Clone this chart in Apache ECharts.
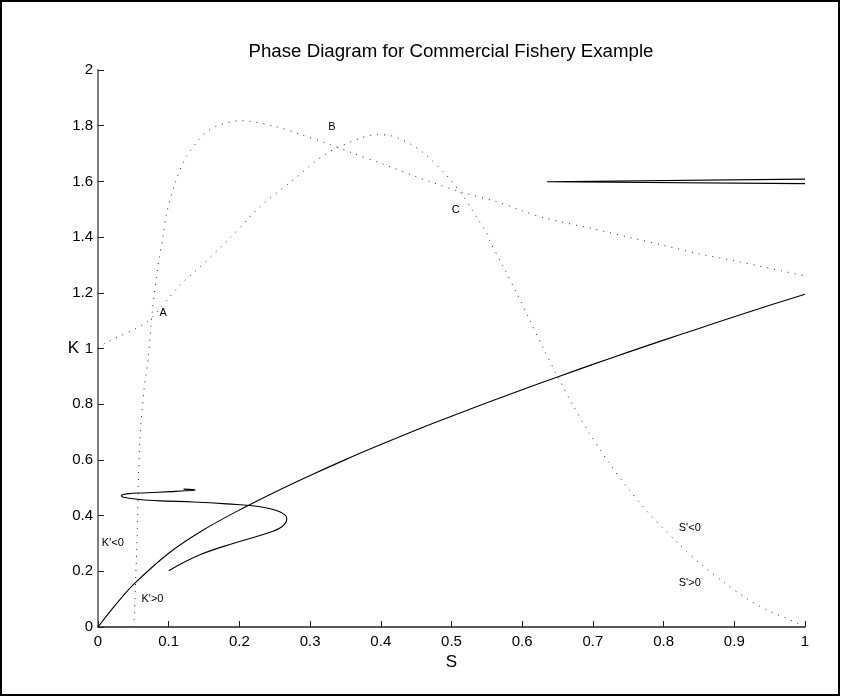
<!DOCTYPE html>
<html>
<head>
<meta charset="utf-8">
<script src="https://cdn.jsdelivr.net/npm/echarts@6/dist/echarts.min.js"></script>
<style>
  html, body { margin: 0; padding: 0; background: #fff; }
  #chart { width: 841px; height: 698px; }
</style>
</head>
<body>
<div id="chart"></div>
<script>
// Saddle-path trajectory from the origin (S, K)
const saddlePath = [
  [0, 0], [0.025, 0.08], [0.05, 0.152], [0.1, 0.265], [0.15, 0.35], [0.2, 0.42],
  [0.25, 0.484], [0.3, 0.544], [0.35, 0.601], [0.4, 0.655], [0.45, 0.707], [0.5, 0.757],
  [0.55, 0.805], [0.6, 0.852], [0.65, 0.898], [0.7, 0.943], [0.75, 0.987], [0.8, 1.03],
  [0.85, 1.072], [0.9, 1.114], [0.95, 1.155], [1.0, 1.195]
];

// Spiralling trajectory starting at (0.1, 0.2)
const spiralPath = [
  [0.1, 0.202], [0.144, 0.259], [0.191, 0.30], [0.238, 0.336], [0.26, 0.36],
  [0.267, 0.39], [0.257, 0.414], [0.229, 0.432], [0.182, 0.442], [0.135, 0.449],
  [0.088, 0.453], [0.059, 0.458], [0.036, 0.466], [0.033, 0.471], [0.041, 0.478],
  [0.069, 0.482], [0.102, 0.486], [0.125, 0.489], [0.138, 0.492], [0.121, 0.495]
];

// Diverging trajectories near the top right
const upperPath = [[1.0, 1.608], [0.635, 1.599], [1.0, 1.592]];

// K' = 0 isocline
const kIsocline = [
  [0.05, 0], [0.051, 0.02], [0.055, 0.3], [0.059, 0.66], [0.065, 0.85], [0.071, 0.965],
  [0.077, 1.138], [0.086, 1.318], [0.092, 1.401], [0.097, 1.485], [0.109, 1.593],
  [0.125, 1.689], [0.149, 1.767], [0.168, 1.799], [0.203, 1.818], [0.248, 1.799],
  [0.286, 1.769], [0.323, 1.737], [0.361, 1.701], [0.4, 1.665], [0.45, 1.617],
  [0.47, 1.599], [0.512, 1.563], [0.564, 1.527], [0.597, 1.497], [0.634, 1.467],
  [0.7, 1.43], [0.75, 1.40], [0.8, 1.37], [0.85, 1.34], [0.9, 1.315], [0.95, 1.288],
  [1.0, 1.261]
];

// S' = 0 isocline
const sIsocline = [
  [0, 1.0], [0.01, 1.019], [0.069, 1.096], [0.116, 1.228], [0.137, 1.276],
  [0.187, 1.397], [0.229, 1.509], [0.276, 1.605], [0.323, 1.70], [0.371, 1.755],
  [0.395, 1.768], [0.42, 1.76], [0.455, 1.713], [0.49, 1.63], [0.517, 1.545],
  [0.528, 1.503], [0.538, 1.461], [0.55, 1.414], [0.553, 1.392], [0.572, 1.3],
  [0.592, 1.2], [0.611, 1.1], [0.630, 1.0], [0.650, 0.9], [0.671, 0.8], [0.694, 0.7],
  [0.720, 0.6], [0.749, 0.5], [0.782, 0.4], [0.821, 0.3], [0.851, 0.229],
  [0.884, 0.163], [0.917, 0.103], [0.946, 0.061], [0.974, 0.031], [1.0, 0]
];

// Region and equilibrium annotations: [text, S, K]
const annotations = [
  ['A', 0.092, 1.126],
  ['B', 0.331, 1.795],
  ['C', 0.506, 1.497],
  ["K'<0", 0.021, 0.30],
  ["K'>0", 0.077, 0.10],
  ["S'<0", 0.837, 0.355],
  ["S'>0", 0.837, 0.158]
];

const titleText = 'Phase Diagram for Commercial Fishery Example';
const FONT = '"Liberation Sans", Arial, Helvetica, sans-serif';

const chart = echarts.init(document.getElementById('chart'), null, { renderer: 'canvas' });

const solid = { color: '#000', width: 1.1, type: 'solid' };
const dotted = { color: '#222', width: 1, type: [1, 6] };

function lineSeries(data, style, smooth) {
  return {
    type: 'line', data: data, showSymbol: false, symbol: 'none',
    lineStyle: style, smooth: smooth, silent: true, animation: false
  };
}

chart.setOption({
  animation: false,
  backgroundColor: '#fff',
  grid: { left: 98, right: 36, top: 70, bottom: 71 },
  xAxis: {
    type: 'value', min: 0, max: 1, interval: 0.1,
    name: 'S', nameLocation: 'middle', nameGap: 27,
    nameTextStyle: { fontFamily: FONT, fontSize: 17, color: '#000' },
    axisLine: { onZero: false, lineStyle: { color: '#222', width: 1.5 } },
    axisTick: { inside: true, length: 6, lineStyle: { color: '#222', width: 1 } },
    axisLabel: { fontFamily: FONT, fontSize: 15, color: '#000', margin: 7 },
    splitLine: { show: false }
  },
  yAxis: {
    type: 'value', min: 0, max: 2, interval: 0.2,
    name: 'K', nameLocation: 'middle', nameGap: 19, nameRotate: 0,
    nameMoveOverlap: false,
    nameTextStyle: { fontFamily: FONT, fontSize: 17, color: '#000' },
    axisLine: { onZero: false, lineStyle: { color: '#7f7f7f', width: 2 } },
    axisTick: { inside: true, length: 6, lineStyle: { color: '#222', width: 1 } },
    axisLabel: { fontFamily: FONT, fontSize: 15, color: '#000', margin: 5 },
    splitLine: { show: false }
  },
  series: [
    lineSeries(kIsocline, dotted, 0.3),
    lineSeries(sIsocline, dotted, 0.3),
    lineSeries(saddlePath, solid, 0.3),
    lineSeries(spiralPath, solid, 0.4),
    lineSeries(upperPath, solid, false)
  ]
});

// Frame, title and annotations placed from data coordinates
const graphics = [
  {
    type: 'rect', shape: { x: 1, y: 1, width: 838, height: 694 },
    style: { fill: null, stroke: '#000', lineWidth: 2 }, silent: true
  },
  {
    type: 'text', x: 451, y: 52,
    style: { text: titleText, fill: '#000', font: '18.7px ' + FONT, textAlign: 'center', textVerticalAlign: 'middle' }
  }
];
annotations.forEach(function (a) {
  const p = chart.convertToPixel({ gridIndex: 0 }, [a[1], a[2]]);
  graphics.push({
    type: 'text', x: p[0], y: p[1],
    style: { text: a[0], fill: '#000', font: '11px ' + FONT, textAlign: 'center', textVerticalAlign: 'middle' }
  });
});
chart.setOption({ graphic: graphics });
</script>
</body>
</html>
